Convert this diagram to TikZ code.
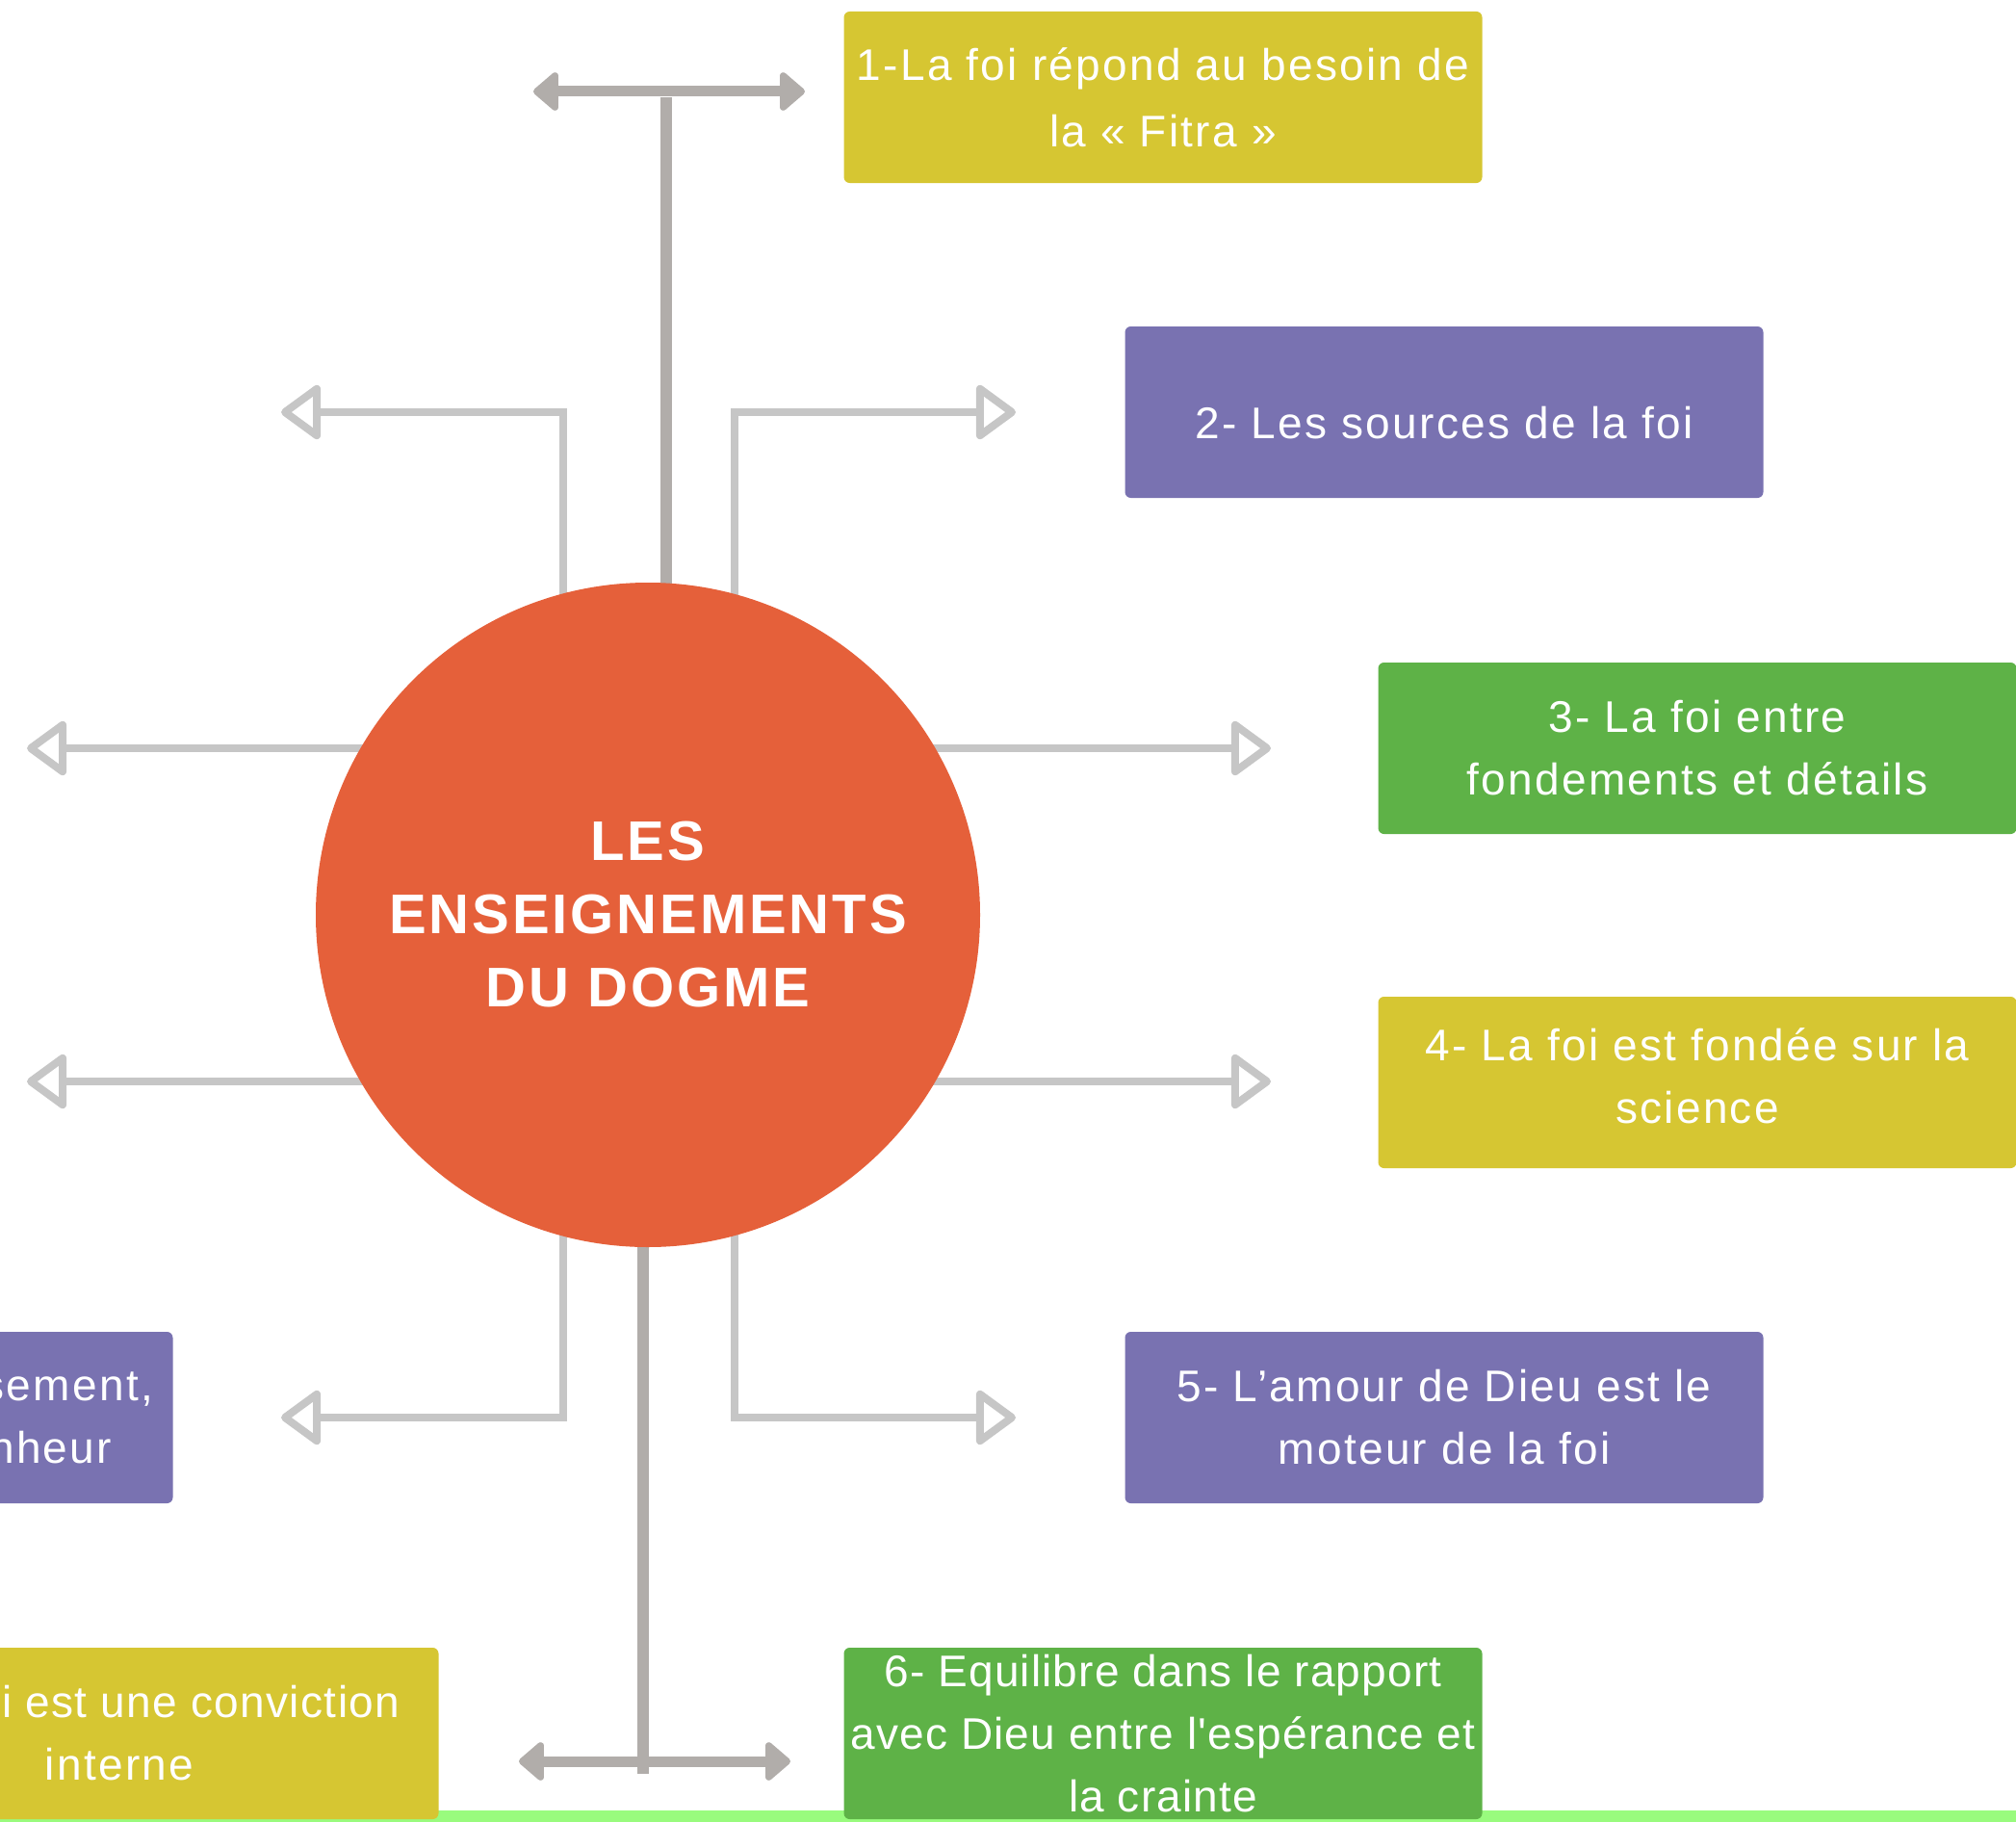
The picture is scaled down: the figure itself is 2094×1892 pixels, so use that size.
\documentclass[tikz,border=0pt]{standalone}
\usepackage{fontspec}
\setmainfont{Liberation Sans}[Ligatures=TeXOff,LetterSpace=5]
\usetikzlibrary{arrows.meta,backgrounds}
\definecolor{hubcol}{HTML}{E5603A}
\definecolor{topicyellow}{HTML}{D6C632}
\definecolor{topicpurple}{HTML}{7972B1}
\definecolor{topicgreen}{HTML}{5EB247}
\definecolor{lightline}{HTML}{C6C6C6}
\definecolor{darkline}{HTML}{B1ADAA}
\definecolor{stripgreen}{HTML}{99FB7E}
\tikzset{
  topic/.style={rectangle,rounded corners=6pt,minimum width=663pt,minimum height=178pt,
    inner sep=0pt,text=white,align=center,font=\fontsize{46}{65}\selectfont,
    execute at begin node={\rule{0pt}{36pt}}},
  hub/.style={circle,fill=hubcol,minimum size=690pt,inner sep=0pt,text=white,
    align=center,font=\fontsize{58}{76}\selectfont\bfseries},
  stem/.style={draw=darkline,line width=12pt},
  twoway/.style={draw=darkline,line width=11pt,
    {Triangle[round,length=28pt,width=46pt]}-{Triangle[round,length=28pt,width=46pt]}},
  spoke/.style={draw=lightline,line width=8pt,-{Triangle[open,round,length=44pt,width=62pt]}},
}
\begin{document}
\begin{tikzpicture}[x=1pt,y=-1pt]
\useasboundingbox (0,0) rectangle (2094,1892);
\clip (0,0) rectangle (2094,1892);
\fill[stripgreen] (0,1880) rectangle (2094,1892);% bande du bas
% centre
\node[hub] (hub) at (673,950) {LES\\ENSEIGNEMENTS\\DU DOGME};
% les cases
\node[topic,fill=topicyellow] (t1) at (1208,101) {1-La foi répond au besoin de\\[4pt]la « Fitra »};
\node[topic,fill=topicpurple] (t2) at (1500,428) {\rule{0pt}{56pt}2- Les sources de la foi};
\node[topic,fill=topicgreen] (t3) at (1763,777) {3- La foi entre\\fondements et détails};
\node[topic,fill=topicyellow] (t4) at (1763,1124) {4- La foi est fondée sur la\\science\rule[-14pt]{0pt}{0pt}};
\node[topic,fill=topicpurple] (t5) at (1500,1472) {5- L’amour de Dieu est le\\moteur de la foi};
\node[topic,fill=topicgreen,font=\fontsize{46}{65}\selectfont\addfontfeatures{LetterSpace=2.5}] (t6) at (1208,1800)
  {6- Equilibre dans le rapport\\avec Dieu entre l'espérance et\\la crainte};
\node[topic,fill=topicpurple] (t7) at (-152,1472) {\makebox[622pt][r]{sement,}\\\makebox[536pt][r]{nheur}};
\node[topic,fill=topicyellow] (t8) at (124,1800)
  {\makebox[244pt][l]{\addfontfeatures{LetterSpace=3}i est une conviction}\\interne};
% extremites des fleches
\coordinate (topmid) at (692,101);
\coordinate (botmid) at (668,1842);
\coordinate (topL) at (554,95);
\coordinate (topR) at (836,95);
\coordinate (botL) at (539,1829);
\coordinate (botR) at (821,1829);
\coordinate (w1) at (28,777);
\coordinate (w2) at (28,1123);
\coordinate (e1) at (1320,777);
\coordinate (e2) at (1320,1123);
\coordinate (nw) at (292,428);
\coordinate (ne) at (1055,428);
\coordinate (sw) at (292,1472);
\coordinate (se) at (1055,1472);
\begin{pgfonlayer}{background}
\draw[stem] (topmid) -- (topmid |- hub.center);
\draw[stem] (botmid) -- (botmid |- hub.center);
\draw[spoke] (hub.center |- w1) -- (w1);
\draw[spoke] (hub.center |- w2) -- (w2);
\draw[spoke] (hub.center |- e1) -- (e1);
\draw[spoke] (hub.center |- e2) -- (e2);
\draw[spoke] ([xshift=-88pt]hub.center) |- (nw);
\draw[spoke] ([xshift=90pt]hub.center) |- (ne);
\draw[spoke] ([xshift=-88pt]hub.center) |- (sw);
\draw[spoke] ([xshift=90pt]hub.center) |- (se);
\end{pgfonlayer}
\draw[twoway] (topL) -- (topR);
\draw[twoway] (botL) -- (botR);
\end{tikzpicture}
\end{document}
